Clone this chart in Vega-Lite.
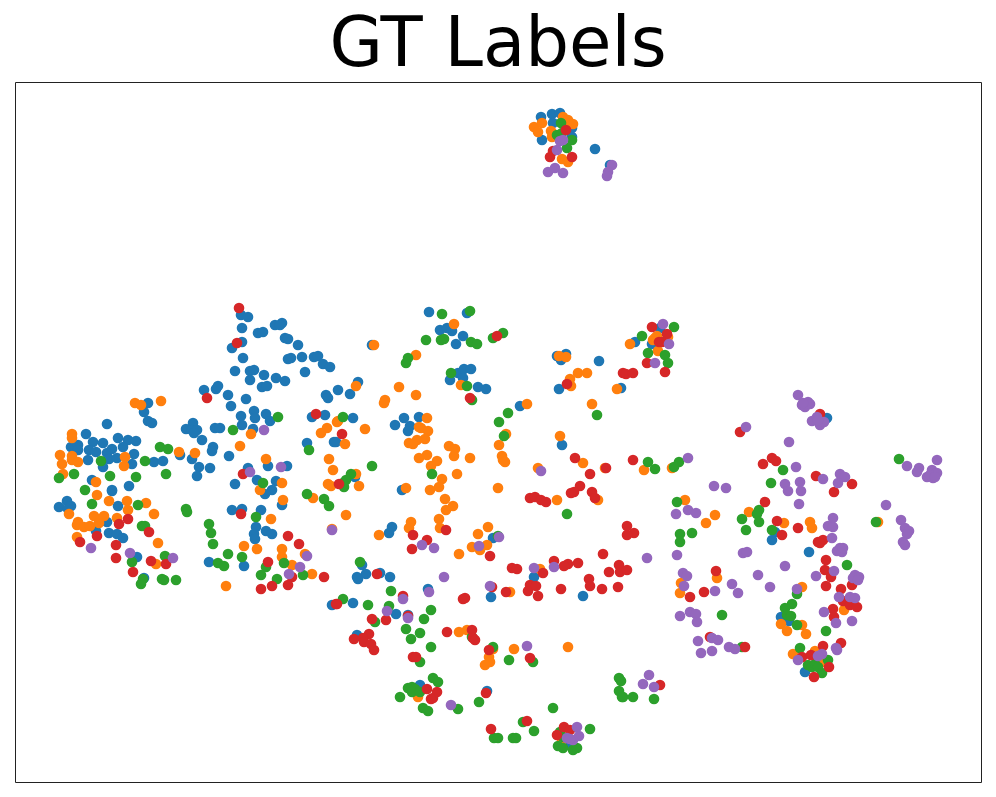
{"$schema":"https://vega.github.io/schema/vega-lite/v6.json","width":966,"height":700,"autosize":"none","padding":{"left":15,"top":82,"right":15,"bottom":15},"background":"white","title":{"text":"GT Labels","font":"DejaVu Sans","fontSize":69,"fontWeight":"normal","color":"#000","anchor":"middle","offset":2},"config":{"view":{"stroke":"#222","strokeWidth":1}},"data":{"values":[{"x":241,"y":315,"c":0},{"x":248,"y":317,"c":0},{"x":242,"y":328,"c":0},{"x":242,"y":342,"c":0},{"x":232,"y":348,"c":0},{"x":243,"y":358,"c":0},{"x":258,"y":333,"c":0},{"x":263,"y":332,"c":0},{"x":275,"y":325,"c":0},{"x":282,"y":323,"c":0},{"x":280,"y":325,"c":0},{"x":285,"y":338,"c":0},{"x":288,"y":339,"c":0},{"x":298,"y":345,"c":0},{"x":288,"y":359,"c":0},{"x":291,"y":358,"c":0},{"x":302,"y":357,"c":0},{"x":314,"y":357,"c":0},{"x":318,"y":356,"c":0},{"x":323,"y":364,"c":0},{"x":330,"y":367,"c":0},{"x":305,"y":372,"c":0},{"x":235,"y":371,"c":0},{"x":250,"y":371,"c":0},{"x":254,"y":370,"c":0},{"x":250,"y":380,"c":0},{"x":264,"y":375,"c":0},{"x":276,"y":378,"c":0},{"x":285,"y":381,"c":0},{"x":262,"y":387,"c":0},{"x":267,"y":386,"c":0},{"x":204,"y":390,"c":0},{"x":216,"y":389,"c":0},{"x":218,"y":386,"c":0},{"x":228,"y":395,"c":0},{"x":246,"y":399,"c":0},{"x":231,"y":406,"c":0},{"x":326,"y":395,"c":0},{"x":328,"y":398,"c":0},{"x":148,"y":403,"c":0},{"x":144,"y":412,"c":0},{"x":148,"y":421,"c":0},{"x":152,"y":423,"c":0},{"x":241,"y":416,"c":0},{"x":254,"y":411,"c":0},{"x":255,"y":418,"c":0},{"x":266,"y":414,"c":0},{"x":270,"y":421,"c":0},{"x":242,"y":425,"c":0},{"x":253,"y":429,"c":0},{"x":312,"y":417,"c":0},{"x":325,"y":415,"c":0},{"x":107,"y":424,"c":0},{"x":86,"y":434,"c":0},{"x":186,"y":429,"c":0},{"x":193,"y":423,"c":0},{"x":192,"y":430,"c":0},{"x":197,"y":430,"c":0},{"x":194,"y":433,"c":0},{"x":215,"y":428,"c":0},{"x":220,"y":428,"c":0},{"x":202,"y":440,"c":0},{"x":118,"y":438,"c":0},{"x":128,"y":440,"c":0},{"x":136,"y":441,"c":0},{"x":93,"y":442,"c":0},{"x":103,"y":443,"c":0},{"x":71,"y":447,"c":0},{"x":78,"y":445,"c":0},{"x":78,"y":450,"c":0},{"x":89,"y":450,"c":0},{"x":96,"y":452,"c":0},{"x":112,"y":449,"c":0},{"x":123,"y":447,"c":0},{"x":107,"y":453,"c":0},{"x":109,"y":459,"c":0},{"x":117,"y":458,"c":0},{"x":134,"y":454,"c":0},{"x":88,"y":460,"c":0},{"x":103,"y":467,"c":0},{"x":132,"y":464,"c":0},{"x":154,"y":462,"c":0},{"x":163,"y":461,"c":0},{"x":180,"y":455,"c":0},{"x":192,"y":459,"c":0},{"x":213,"y":447,"c":0},{"x":212,"y":451,"c":0},{"x":229,"y":456,"c":0},{"x":199,"y":467,"c":0},{"x":210,"y":468,"c":0},{"x":197,"y":476,"c":0},{"x":307,"y":443,"c":0},{"x":334,"y":442,"c":0},{"x":248,"y":468,"c":0},{"x":268,"y":466,"c":0},{"x":287,"y":466,"c":0},{"x":92,"y":480,"c":0},{"x":129,"y":486,"c":0},{"x":112,"y":490,"c":0},{"x":112,"y":491,"c":0},{"x":235,"y":484,"c":0},{"x":257,"y":480,"c":0},{"x":276,"y":481,"c":0},{"x":272,"y":490,"c":0},{"x":265,"y":494,"c":0},{"x":67,"y":501,"c":0},{"x":71,"y":506,"c":0},{"x":59,"y":507,"c":0},{"x":68,"y":509,"c":0},{"x":118,"y":506,"c":0},{"x":232,"y":510,"c":0},{"x":242,"y":509,"c":0},{"x":261,"y":510,"c":0},{"x":282,"y":505,"c":0},{"x":107,"y":522,"c":0},{"x":96,"y":531,"c":0},{"x":109,"y":533,"c":0},{"x":117,"y":534,"c":0},{"x":123,"y":538,"c":0},{"x":256,"y":527,"c":0},{"x":254,"y":534,"c":0},{"x":255,"y":539,"c":0},{"x":266,"y":531,"c":0},{"x":272,"y":534,"c":0},{"x":137,"y":557,"c":0},{"x":209,"y":562,"c":0},{"x":244,"y":566,"c":0},{"x":144,"y":578,"c":0},{"x":332,"y":605,"c":0},{"x":429,"y":312,"c":0},{"x":467,"y":313,"c":0},{"x":440,"y":330,"c":0},{"x":447,"y":328,"c":0},{"x":452,"y":331,"c":0},{"x":463,"y":336,"c":0},{"x":456,"y":344,"c":0},{"x":372,"y":345,"c":0},{"x":358,"y":382,"c":0},{"x":338,"y":390,"c":0},{"x":350,"y":394,"c":0},{"x":353,"y":418,"c":0},{"x":404,"y":418,"c":0},{"x":419,"y":417,"c":0},{"x":395,"y":425,"c":0},{"x":410,"y":426,"c":0},{"x":408,"y":431,"c":0},{"x":336,"y":442,"c":0},{"x":458,"y":373,"c":0},{"x":464,"y":369,"c":0},{"x":471,"y":369,"c":0},{"x":450,"y":380,"c":0},{"x":463,"y":378,"c":0},{"x":478,"y":387,"c":0},{"x":486,"y":389,"c":0},{"x":520,"y":406,"c":0},{"x":557,"y":356,"c":0},{"x":566,"y":354,"c":0},{"x":561,"y":360,"c":0},{"x":599,"y":361,"c":0},{"x":559,"y":389,"c":0},{"x":621,"y":388,"c":0},{"x":635,"y":342,"c":0},{"x":652,"y":344,"c":0},{"x":562,"y":445,"c":0},{"x":355,"y":477,"c":0},{"x":402,"y":490,"c":0},{"x":392,"y":527,"c":0},{"x":389,"y":533,"c":0},{"x":493,"y":538,"c":0},{"x":362,"y":565,"c":0},{"x":380,"y":573,"c":0},{"x":366,"y":574,"c":0},{"x":357,"y":577,"c":0},{"x":358,"y":579,"c":0},{"x":390,"y":577,"c":0},{"x":534,"y":577,"c":0},{"x":428,"y":589,"c":0},{"x":491,"y":597,"c":0},{"x":583,"y":596,"c":0},{"x":353,"y":603,"c":0},{"x":660,"y":328,"c":0},{"x":827,"y":418,"c":0},{"x":772,"y":540,"c":0},{"x":775,"y":532,"c":0},{"x":809,"y":552,"c":0},{"x":781,"y":617,"c":0},{"x":789,"y":621,"c":0},{"x":805,"y":672,"c":0},{"x":396,"y":614,"c":0},{"x":357,"y":635,"c":0},{"x":408,"y":615,"c":0},{"x":420,"y":685,"c":0},{"x":487,"y":691,"c":0},{"x":568,"y":743,"c":0},{"x":541,"y":117,"c":0},{"x":552,"y":114,"c":0},{"x":560,"y":113,"c":0},{"x":553,"y":123,"c":0},{"x":542,"y":140,"c":0},{"x":572,"y":128,"c":0},{"x":572,"y":137,"c":0},{"x":595,"y":149,"c":0},{"x":610,"y":165,"c":0},{"x":161,"y":401,"c":1},{"x":135,"y":403,"c":1},{"x":141,"y":405,"c":1},{"x":72,"y":434,"c":1},{"x":72,"y":438,"c":1},{"x":60,"y":455,"c":1},{"x":72,"y":456,"c":1},{"x":62,"y":464,"c":1},{"x":72,"y":460,"c":1},{"x":78,"y":462,"c":1},{"x":125,"y":457,"c":1},{"x":124,"y":466,"c":1},{"x":63,"y":474,"c":1},{"x":179,"y":452,"c":1},{"x":195,"y":453,"c":1},{"x":240,"y":446,"c":1},{"x":251,"y":434,"c":1},{"x":327,"y":428,"c":1},{"x":321,"y":433,"c":1},{"x":337,"y":422,"c":1},{"x":329,"y":459,"c":1},{"x":333,"y":470,"c":1},{"x":328,"y":484,"c":1},{"x":331,"y":486,"c":1},{"x":266,"y":459,"c":1},{"x":96,"y":482,"c":1},{"x":97,"y":495,"c":1},{"x":282,"y":483,"c":1},{"x":260,"y":490,"c":1},{"x":283,"y":500,"c":1},{"x":313,"y":498,"c":1},{"x":109,"y":501,"c":1},{"x":127,"y":501,"c":1},{"x":146,"y":503,"c":1},{"x":128,"y":510,"c":1},{"x":154,"y":514,"c":1},{"x":69,"y":514,"c":1},{"x":94,"y":516,"c":1},{"x":104,"y":516,"c":1},{"x":117,"y":518,"c":1},{"x":78,"y":522,"c":1},{"x":77,"y":525,"c":1},{"x":84,"y":527,"c":1},{"x":90,"y":526,"c":1},{"x":99,"y":523,"c":1},{"x":271,"y":519,"c":1},{"x":77,"y":537,"c":1},{"x":158,"y":543,"c":1},{"x":244,"y":546,"c":1},{"x":257,"y":549,"c":1},{"x":282,"y":549,"c":1},{"x":282,"y":557,"c":1},{"x":305,"y":554,"c":1},{"x":332,"y":529,"c":1},{"x":156,"y":564,"c":1},{"x":292,"y":565,"c":1},{"x":312,"y":574,"c":1},{"x":226,"y":586,"c":1},{"x":374,"y":345,"c":1},{"x":454,"y":324,"c":1},{"x":416,"y":355,"c":1},{"x":356,"y":386,"c":1},{"x":399,"y":387,"c":1},{"x":416,"y":395,"c":1},{"x":385,"y":400,"c":1},{"x":384,"y":403,"c":1},{"x":461,"y":385,"c":1},{"x":559,"y":356,"c":1},{"x":566,"y":357,"c":1},{"x":578,"y":373,"c":1},{"x":587,"y":373,"c":1},{"x":570,"y":379,"c":1},{"x":571,"y":386,"c":1},{"x":617,"y":389,"c":1},{"x":630,"y":344,"c":1},{"x":653,"y":340,"c":1},{"x":658,"y":351,"c":1},{"x":592,"y":404,"c":1},{"x":527,"y":404,"c":1},{"x":427,"y":418,"c":1},{"x":419,"y":427,"c":1},{"x":421,"y":428,"c":1},{"x":428,"y":431,"c":1},{"x":338,"y":421,"c":1},{"x":365,"y":429,"c":1},{"x":425,"y":439,"c":1},{"x":417,"y":440,"c":1},{"x":409,"y":443,"c":1},{"x":413,"y":444,"c":1},{"x":345,"y":444,"c":1},{"x":506,"y":434,"c":1},{"x":499,"y":445,"c":1},{"x":560,"y":436,"c":1},{"x":449,"y":446,"c":1},{"x":455,"y":449,"c":1},{"x":454,"y":456,"c":1},{"x":427,"y":455,"c":1},{"x":419,"y":458,"c":1},{"x":437,"y":461,"c":1},{"x":431,"y":466,"c":1},{"x":470,"y":458,"c":1},{"x":502,"y":456,"c":1},{"x":503,"y":460,"c":1},{"x":505,"y":462,"c":1},{"x":538,"y":468,"c":1},{"x":583,"y":463,"c":1},{"x":356,"y":474,"c":1},{"x":457,"y":474,"c":1},{"x":442,"y":479,"c":1},{"x":439,"y":487,"c":1},{"x":430,"y":490,"c":1},{"x":406,"y":488,"c":1},{"x":498,"y":488,"c":1},{"x":359,"y":486,"c":1},{"x":445,"y":499,"c":1},{"x":453,"y":506,"c":1},{"x":446,"y":510,"c":1},{"x":598,"y":500,"c":1},{"x":557,"y":500,"c":1},{"x":644,"y":470,"c":1},{"x":605,"y":468,"c":1},{"x":346,"y":515,"c":1},{"x":439,"y":519,"c":1},{"x":411,"y":522,"c":1},{"x":409,"y":528,"c":1},{"x":440,"y":528,"c":1},{"x":488,"y":527,"c":1},{"x":478,"y":534,"c":1},{"x":379,"y":535,"c":1},{"x":472,"y":547,"c":1},{"x":487,"y":545,"c":1},{"x":480,"y":550,"c":1},{"x":459,"y":554,"c":1},{"x":540,"y":569,"c":1},{"x":510,"y":592,"c":1},{"x":657,"y":336,"c":1},{"x":668,"y":337,"c":1},{"x":655,"y":338,"c":1},{"x":685,"y":500,"c":1},{"x":715,"y":515,"c":1},{"x":706,"y":523,"c":1},{"x":749,"y":512,"c":1},{"x":784,"y":523,"c":1},{"x":810,"y":522,"c":1},{"x":812,"y":528,"c":1},{"x":878,"y":522,"c":1},{"x":672,"y":468,"c":1},{"x":802,"y":587,"c":1},{"x":717,"y":578,"c":1},{"x":681,"y":583,"c":1},{"x":680,"y":593,"c":1},{"x":844,"y":610,"c":1},{"x":781,"y":624,"c":1},{"x":787,"y":631,"c":1},{"x":802,"y":625,"c":1},{"x":806,"y":634,"c":1},{"x":793,"y":654,"c":1},{"x":815,"y":651,"c":1},{"x":822,"y":662,"c":1},{"x":818,"y":658,"c":1},{"x":459,"y":632,"c":1},{"x":467,"y":630,"c":1},{"x":493,"y":649,"c":1},{"x":514,"y":649,"c":1},{"x":489,"y":657,"c":1},{"x":490,"y":662,"c":1},{"x":485,"y":665,"c":1},{"x":568,"y":647,"c":1},{"x":418,"y":697,"c":1},{"x":562,"y":740,"c":1},{"x":534,"y":127,"c":1},{"x":542,"y":123,"c":1},{"x":538,"y":132,"c":1},{"x":563,"y":117,"c":1},{"x":568,"y":120,"c":1},{"x":573,"y":124,"c":1},{"x":551,"y":131,"c":1},{"x":552,"y":137,"c":1},{"x":562,"y":159,"c":1},{"x":568,"y":162,"c":1},{"x":278,"y":417,"c":2},{"x":233,"y":430,"c":2},{"x":160,"y":447,"c":2},{"x":168,"y":449,"c":2},{"x":145,"y":461,"c":2},{"x":101,"y":461,"c":2},{"x":309,"y":450,"c":2},{"x":74,"y":474,"c":2},{"x":59,"y":478,"c":2},{"x":110,"y":476,"c":2},{"x":136,"y":477,"c":2},{"x":166,"y":474,"c":2},{"x":263,"y":483,"c":2},{"x":85,"y":490,"c":2},{"x":307,"y":494,"c":2},{"x":324,"y":499,"c":2},{"x":329,"y":506,"c":2},{"x":92,"y":504,"c":2},{"x":138,"y":505,"c":2},{"x":186,"y":509,"c":2},{"x":187,"y":512,"c":2},{"x":256,"y":517,"c":2},{"x":209,"y":524,"c":2},{"x":211,"y":533,"c":2},{"x":213,"y":544,"c":2},{"x":142,"y":526,"c":2},{"x":145,"y":526,"c":2},{"x":228,"y":554,"c":2},{"x":242,"y":557,"c":2},{"x":165,"y":556,"c":2},{"x":218,"y":563,"c":2},{"x":224,"y":566,"c":2},{"x":132,"y":562,"c":2},{"x":284,"y":563,"c":2},{"x":266,"y":567,"c":2},{"x":261,"y":575,"c":2},{"x":277,"y":579,"c":2},{"x":303,"y":575,"c":2},{"x":143,"y":579,"c":2},{"x":141,"y":584,"c":2},{"x":162,"y":579,"c":2},{"x":164,"y":580,"c":2},{"x":176,"y":580,"c":2},{"x":442,"y":314,"c":2},{"x":470,"y":311,"c":2},{"x":426,"y":340,"c":2},{"x":441,"y":340,"c":2},{"x":444,"y":339,"c":2},{"x":471,"y":342,"c":2},{"x":477,"y":344,"c":2},{"x":493,"y":338,"c":2},{"x":503,"y":333,"c":2},{"x":642,"y":336,"c":2},{"x":408,"y":358,"c":2},{"x":406,"y":363,"c":2},{"x":451,"y":373,"c":2},{"x":467,"y":386,"c":2},{"x":472,"y":400,"c":2},{"x":508,"y":413,"c":2},{"x":499,"y":422,"c":2},{"x":504,"y":436,"c":2},{"x":597,"y":415,"c":2},{"x":648,"y":353,"c":2},{"x":343,"y":417,"c":2},{"x":372,"y":466,"c":2},{"x":432,"y":474,"c":2},{"x":351,"y":474,"c":2},{"x":346,"y":480,"c":2},{"x":343,"y":483,"c":2},{"x":344,"y":487,"c":2},{"x":648,"y":462,"c":2},{"x":655,"y":469,"c":2},{"x":567,"y":514,"c":2},{"x":498,"y":536,"c":2},{"x":360,"y":562,"c":2},{"x":391,"y":591,"c":2},{"x":368,"y":605,"c":2},{"x":343,"y":599,"c":2},{"x":389,"y":606,"c":2},{"x":674,"y":327,"c":2},{"x":665,"y":355,"c":2},{"x":668,"y":363,"c":2},{"x":679,"y":462,"c":2},{"x":674,"y":467,"c":2},{"x":899,"y":459,"c":2},{"x":783,"y":470,"c":2},{"x":771,"y":483,"c":2},{"x":677,"y":502,"c":2},{"x":759,"y":510,"c":2},{"x":757,"y":514,"c":2},{"x":742,"y":519,"c":2},{"x":759,"y":522,"c":2},{"x":746,"y":530,"c":2},{"x":772,"y":530,"c":2},{"x":876,"y":522,"c":2},{"x":692,"y":533,"c":2},{"x":680,"y":534,"c":2},{"x":680,"y":542,"c":2},{"x":847,"y":565,"c":2},{"x":797,"y":594,"c":2},{"x":792,"y":604,"c":2},{"x":785,"y":608,"c":2},{"x":787,"y":615,"c":2},{"x":791,"y":616,"c":2},{"x":797,"y":625,"c":2},{"x":826,"y":631,"c":2},{"x":722,"y":615,"c":2},{"x":742,"y":647,"c":2},{"x":800,"y":648,"c":2},{"x":828,"y":660,"c":2},{"x":808,"y":665,"c":2},{"x":812,"y":667,"c":2},{"x":815,"y":664,"c":2},{"x":818,"y":667,"c":2},{"x":822,"y":673,"c":2},{"x":431,"y":610,"c":2},{"x":424,"y":619,"c":2},{"x":375,"y":622,"c":2},{"x":406,"y":629,"c":2},{"x":420,"y":633,"c":2},{"x":411,"y":639,"c":2},{"x":431,"y":647,"c":2},{"x":420,"y":662,"c":2},{"x":433,"y":678,"c":2},{"x":438,"y":682,"c":2},{"x":408,"y":688,"c":2},{"x":412,"y":687,"c":2},{"x":415,"y":689,"c":2},{"x":412,"y":692,"c":2},{"x":420,"y":692,"c":2},{"x":400,"y":697,"c":2},{"x":423,"y":708,"c":2},{"x":428,"y":711,"c":2},{"x":458,"y":709,"c":2},{"x":479,"y":702,"c":2},{"x":493,"y":647,"c":2},{"x":509,"y":660,"c":2},{"x":533,"y":662,"c":2},{"x":472,"y":637,"c":2},{"x":553,"y":708,"c":2},{"x":619,"y":678,"c":2},{"x":621,"y":681,"c":2},{"x":619,"y":691,"c":2},{"x":622,"y":697,"c":2},{"x":623,"y":697,"c":2},{"x":633,"y":697,"c":2},{"x":654,"y":699,"c":2},{"x":523,"y":722,"c":2},{"x":534,"y":731,"c":2},{"x":494,"y":738,"c":2},{"x":498,"y":738,"c":2},{"x":513,"y":738,"c":2},{"x":516,"y":738,"c":2},{"x":590,"y":729,"c":2},{"x":560,"y":732,"c":2},{"x":558,"y":746,"c":2},{"x":563,"y":748,"c":2},{"x":573,"y":750,"c":2},{"x":577,"y":748,"c":2},{"x":563,"y":737,"c":2},{"x":561,"y":123,"c":2},{"x":557,"y":135,"c":2},{"x":562,"y":133,"c":2},{"x":572,"y":140,"c":2},{"x":567,"y":148,"c":2},{"x":239,"y":308,"c":3},{"x":237,"y":343,"c":3},{"x":207,"y":398,"c":3},{"x":316,"y":414,"c":3},{"x":243,"y":474,"c":3},{"x":128,"y":519,"c":3},{"x":119,"y":524,"c":3},{"x":149,"y":532,"c":3},{"x":97,"y":536,"c":3},{"x":80,"y":542,"c":3},{"x":116,"y":545,"c":3},{"x":116,"y":558,"c":3},{"x":151,"y":561,"c":3},{"x":166,"y":564,"c":3},{"x":133,"y":572,"c":3},{"x":241,"y":514,"c":3},{"x":288,"y":536,"c":3},{"x":299,"y":544,"c":3},{"x":268,"y":562,"c":3},{"x":292,"y":577,"c":3},{"x":324,"y":577,"c":3},{"x":288,"y":585,"c":3},{"x":272,"y":586,"c":3},{"x":261,"y":589,"c":3},{"x":336,"y":604,"c":3},{"x":497,"y":336,"c":3},{"x":652,"y":327,"c":3},{"x":623,"y":373,"c":3},{"x":626,"y":374,"c":3},{"x":633,"y":373,"c":3},{"x":567,"y":384,"c":3},{"x":470,"y":398,"c":3},{"x":647,"y":363,"c":3},{"x":659,"y":342,"c":3},{"x":342,"y":434,"c":3},{"x":575,"y":458,"c":3},{"x":590,"y":474,"c":3},{"x":633,"y":460,"c":3},{"x":606,"y":468,"c":3},{"x":580,"y":486,"c":3},{"x":574,"y":492,"c":3},{"x":571,"y":493,"c":3},{"x":592,"y":492,"c":3},{"x":595,"y":498,"c":3},{"x":530,"y":498,"c":3},{"x":535,"y":497,"c":3},{"x":541,"y":500,"c":3},{"x":546,"y":502,"c":3},{"x":339,"y":484,"c":3},{"x":627,"y":526,"c":3},{"x":634,"y":533,"c":3},{"x":627,"y":535,"c":3},{"x":446,"y":530,"c":3},{"x":413,"y":535,"c":3},{"x":427,"y":540,"c":3},{"x":412,"y":549,"c":3},{"x":490,"y":556,"c":3},{"x":603,"y":554,"c":3},{"x":554,"y":561,"c":3},{"x":578,"y":563,"c":3},{"x":568,"y":564,"c":3},{"x":564,"y":566,"c":3},{"x":512,"y":568,"c":3},{"x":517,"y":569,"c":3},{"x":543,"y":573,"c":3},{"x":619,"y":565,"c":3},{"x":609,"y":572,"c":3},{"x":620,"y":572,"c":3},{"x":627,"y":570,"c":3},{"x":589,"y":579,"c":3},{"x":590,"y":586,"c":3},{"x":602,"y":589,"c":3},{"x":618,"y":587,"c":3},{"x":377,"y":574,"c":3},{"x":337,"y":604,"c":3},{"x":403,"y":596,"c":3},{"x":492,"y":587,"c":3},{"x":506,"y":592,"c":3},{"x":463,"y":599,"c":3},{"x":465,"y":598,"c":3},{"x":528,"y":591,"c":3},{"x":530,"y":585,"c":3},{"x":536,"y":586,"c":3},{"x":561,"y":589,"c":3},{"x":538,"y":596,"c":3},{"x":667,"y":334,"c":3},{"x":662,"y":342,"c":3},{"x":665,"y":372,"c":3},{"x":740,"y":432,"c":3},{"x":820,"y":414,"c":3},{"x":772,"y":458,"c":3},{"x":776,"y":461,"c":3},{"x":763,"y":464,"c":3},{"x":816,"y":476,"c":3},{"x":852,"y":484,"c":3},{"x":834,"y":492,"c":3},{"x":765,"y":502,"c":3},{"x":777,"y":521,"c":3},{"x":782,"y":535,"c":3},{"x":798,"y":528,"c":3},{"x":818,"y":542,"c":3},{"x":823,"y":540,"c":3},{"x":820,"y":543,"c":3},{"x":826,"y":560,"c":3},{"x":825,"y":570,"c":3},{"x":831,"y":577,"c":3},{"x":826,"y":586,"c":3},{"x":852,"y":585,"c":3},{"x":841,"y":589,"c":3},{"x":843,"y":601,"c":3},{"x":850,"y":605,"c":3},{"x":857,"y":607,"c":3},{"x":833,"y":609,"c":3},{"x":834,"y":617,"c":3},{"x":716,"y":571,"c":3},{"x":704,"y":592,"c":3},{"x":690,"y":597,"c":3},{"x":710,"y":637,"c":3},{"x":745,"y":647,"c":3},{"x":823,"y":646,"c":3},{"x":841,"y":643,"c":3},{"x":802,"y":657,"c":3},{"x":811,"y":655,"c":3},{"x":829,"y":667,"c":3},{"x":814,"y":677,"c":3},{"x":660,"y":685,"c":3},{"x":372,"y":619,"c":3},{"x":386,"y":620,"c":3},{"x":408,"y":616,"c":3},{"x":369,"y":634,"c":3},{"x":354,"y":639,"c":3},{"x":363,"y":638,"c":3},{"x":364,"y":642,"c":3},{"x":371,"y":644,"c":3},{"x":374,"y":650,"c":3},{"x":413,"y":657,"c":3},{"x":416,"y":657,"c":3},{"x":447,"y":632,"c":3},{"x":472,"y":630,"c":3},{"x":473,"y":638,"c":3},{"x":475,"y":640,"c":3},{"x":489,"y":650,"c":3},{"x":530,"y":658,"c":3},{"x":427,"y":689,"c":3},{"x":437,"y":692,"c":3},{"x":433,"y":698,"c":3},{"x":431,"y":699,"c":3},{"x":486,"y":693,"c":3},{"x":527,"y":721,"c":3},{"x":491,"y":729,"c":3},{"x":557,"y":735,"c":3},{"x":564,"y":727,"c":3},{"x":570,"y":730,"c":3},{"x":566,"y":130,"c":3},{"x":553,"y":151,"c":3},{"x":550,"y":157,"c":3},{"x":572,"y":157,"c":3},{"x":264,"y":430,"c":4},{"x":250,"y":472,"c":4},{"x":281,"y":467,"c":4},{"x":332,"y":530,"c":4},{"x":91,"y":548,"c":4},{"x":130,"y":553,"c":4},{"x":173,"y":558,"c":4},{"x":307,"y":556,"c":4},{"x":300,"y":567,"c":4},{"x":289,"y":574,"c":4},{"x":655,"y":363,"c":4},{"x":541,"y":471,"c":4},{"x":422,"y":545,"c":4},{"x":434,"y":548,"c":4},{"x":479,"y":546,"c":4},{"x":499,"y":537,"c":4},{"x":444,"y":577,"c":4},{"x":534,"y":568,"c":4},{"x":554,"y":567,"c":4},{"x":647,"y":558,"c":4},{"x":490,"y":586,"c":4},{"x":429,"y":592,"c":4},{"x":403,"y":599,"c":4},{"x":387,"y":611,"c":4},{"x":663,"y":324,"c":4},{"x":669,"y":344,"c":4},{"x":798,"y":395,"c":4},{"x":802,"y":405,"c":4},{"x":805,"y":407,"c":4},{"x":808,"y":402,"c":4},{"x":810,"y":404,"c":4},{"x":803,"y":403,"c":4},{"x":812,"y":421,"c":4},{"x":817,"y":417,"c":4},{"x":820,"y":425,"c":4},{"x":824,"y":422,"c":4},{"x":818,"y":420,"c":4},{"x":746,"y":427,"c":4},{"x":789,"y":442,"c":4},{"x":688,"y":458,"c":4},{"x":796,"y":467,"c":4},{"x":937,"y":460,"c":4},{"x":907,"y":466,"c":4},{"x":919,"y":468,"c":4},{"x":917,"y":472,"c":4},{"x":932,"y":470,"c":4},{"x":927,"y":477,"c":4},{"x":937,"y":473,"c":4},{"x":933,"y":478,"c":4},{"x":930,"y":475,"c":4},{"x":935,"y":477,"c":4},{"x":823,"y":479,"c":4},{"x":840,"y":474,"c":4},{"x":845,"y":477,"c":4},{"x":838,"y":483,"c":4},{"x":785,"y":484,"c":4},{"x":800,"y":482,"c":4},{"x":788,"y":491,"c":4},{"x":801,"y":491,"c":4},{"x":714,"y":486,"c":4},{"x":726,"y":488,"c":4},{"x":799,"y":504,"c":4},{"x":886,"y":505,"c":4},{"x":676,"y":514,"c":4},{"x":688,"y":510,"c":4},{"x":696,"y":513,"c":4},{"x":833,"y":518,"c":4},{"x":828,"y":526,"c":4},{"x":833,"y":527,"c":4},{"x":901,"y":520,"c":4},{"x":905,"y":528,"c":4},{"x":909,"y":531,"c":4},{"x":907,"y":534,"c":4},{"x":832,"y":538,"c":4},{"x":903,"y":542,"c":4},{"x":905,"y":545,"c":4},{"x":840,"y":548,"c":4},{"x":837,"y":551,"c":4},{"x":842,"y":552,"c":4},{"x":843,"y":548,"c":4},{"x":743,"y":553,"c":4},{"x":747,"y":552,"c":4},{"x":677,"y":555,"c":4},{"x":834,"y":571,"c":4},{"x":816,"y":576,"c":4},{"x":855,"y":575,"c":4},{"x":859,"y":577,"c":4},{"x":853,"y":578,"c":4},{"x":858,"y":580,"c":4},{"x":785,"y":566,"c":4},{"x":758,"y":575,"c":4},{"x":770,"y":587,"c":4},{"x":797,"y":589,"c":4},{"x":683,"y":573,"c":4},{"x":687,"y":576,"c":4},{"x":684,"y":586,"c":4},{"x":732,"y":584,"c":4},{"x":738,"y":593,"c":4},{"x":715,"y":591,"c":4},{"x":839,"y":597,"c":4},{"x":850,"y":597,"c":4},{"x":855,"y":598,"c":4},{"x":824,"y":612,"c":4},{"x":852,"y":621,"c":4},{"x":836,"y":623,"c":4},{"x":680,"y":616,"c":4},{"x":690,"y":612,"c":4},{"x":696,"y":614,"c":4},{"x":697,"y":622,"c":4},{"x":698,"y":641,"c":4},{"x":712,"y":638,"c":4},{"x":718,"y":640,"c":4},{"x":729,"y":647,"c":4},{"x":735,"y":649,"c":4},{"x":701,"y":653,"c":4},{"x":712,"y":651,"c":4},{"x":837,"y":650,"c":4},{"x":836,"y":648,"c":4},{"x":822,"y":654,"c":4},{"x":818,"y":656,"c":4},{"x":798,"y":660,"c":4},{"x":649,"y":675,"c":4},{"x":643,"y":684,"c":4},{"x":654,"y":687,"c":4},{"x":408,"y":618,"c":4},{"x":527,"y":646,"c":4},{"x":451,"y":705,"c":4},{"x":577,"y":727,"c":4},{"x":579,"y":736,"c":4},{"x":567,"y":738,"c":4},{"x":573,"y":740,"c":4},{"x":570,"y":739,"c":4},{"x":560,"y":141,"c":4},{"x":563,"y":140,"c":4},{"x":557,"y":150,"c":4},{"x":548,"y":172,"c":4},{"x":555,"y":168,"c":4},{"x":563,"y":173,"c":4},{"x":612,"y":165,"c":4},{"x":608,"y":172,"c":4},{"x":607,"y":176,"c":4}]},"mark":{"type":"point","filled":true,"opacity":1,"size":113,"clip":true},"encoding":{"x":{"field":"x","type":"quantitative","axis":null,"scale":{"domain":[15,981],"nice":false,"zero":false}},"y":{"field":"y","type":"quantitative","axis":null,"scale":{"domain":[782,82],"nice":false,"zero":false}},"color":{"field":"c","type":"nominal","legend":null,"scale":{"domain":[0,1,2,3,4],"range":["#1f77b4","#ff7f0e","#2ca02c","#d62728","#9467bd"]}}}}
